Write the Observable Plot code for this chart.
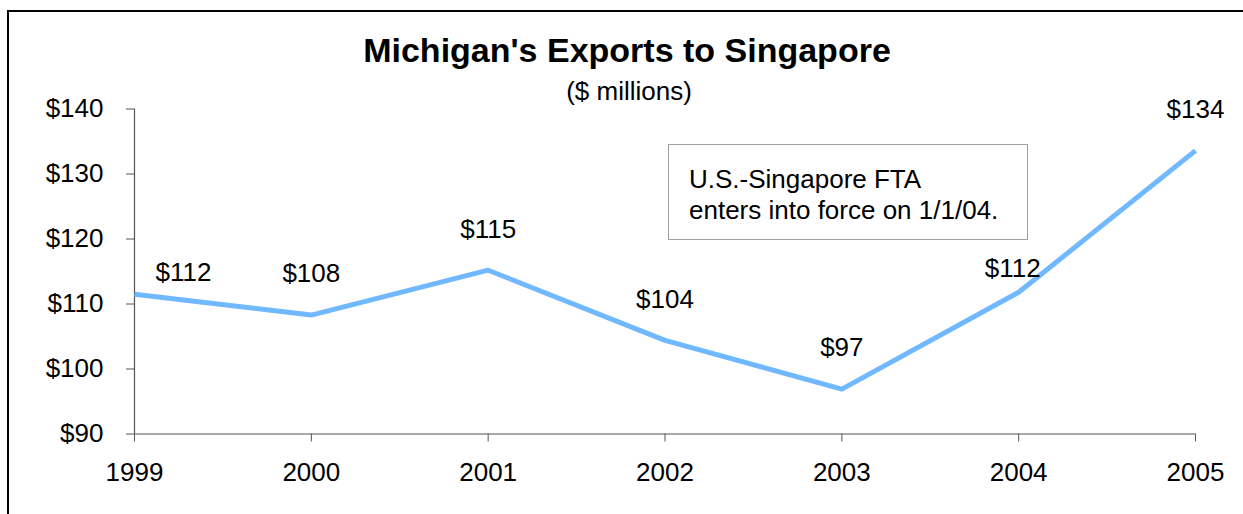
<!DOCTYPE html>
<html>
<head>
<meta charset="utf-8">
<script src="https://cdn.jsdelivr.net/npm/d3@7"></script>
<script src="https://cdn.jsdelivr.net/npm/@observablehq/plot@0.6"></script>
<style>
  html, body { margin: 0; padding: 0; background: #fff; }
  body { font-family: "Liberation Sans", Arial, sans-serif; color: #000; }
  #wrap { position: relative; width: 1243px; height: 514px; overflow: hidden; background: #fff; }
  #wrap svg { position: absolute; left: 0; top: 0; display: block; }
  #frame { position: absolute; left: 7px; top: 10px; width: 1300px; height: 700px;
           border-left: 2px solid #000; border-top: 2px solid #000; pointer-events: none; }
  .title { position: absolute; left: 627px; top: 33px; transform: translateX(-50%);
           white-space: nowrap; font-size: 34px; line-height: 34px; font-weight: bold; }
  .subtitle { position: absolute; left: 629px; top: 78px; transform: translateX(-50%);
              white-space: nowrap; font-size: 26px; line-height: 26px; }
  .note { position: absolute; left: 668px; top: 144px; width: 358px; height: 94px;
          border: 1px solid #a0a0a0; background: #fff; box-sizing: content-box; }
  .note div { position: absolute; left: 20px; top: 19px; font-size: 26px; line-height: 31px; white-space: nowrap; }
</style>
</head>
<body>
<div id="wrap"></div>
<script>
// ---- data ----
const years = [1999, 2000, 2001, 2002, 2003, 2004, 2005];
const exportsMillions = [111.5, 108.3, 115.2, 104.4, 96.9, 111.8, 133.6];
const valueLabels = ["$112", "$108", "$115", "$104", "$97", "$112", "$134"];
const yTicks = [90, 100, 110, 120, 130, 140];
const titleText = "Michigan's Exports to Singapore";
const subtitleText = "($ millions)";
const noteLines = ["U.S.-Singapore FTA", "enters into force on 1/1/04."];

const rows = years.map((year, i) => ({year, value: exportsMillions[i], label: valueLabels[i]}));

const lineColor = "#70b8ff";
const axisColor = "#555";

const chart = Plot.plot({
  width: 1243,
  height: 514,
  marginLeft: 134,
  marginRight: 48,
  marginTop: 108.5,
  marginBottom: 80.5,
  style: { fontFamily: "'Liberation Sans', Arial, sans-serif", fontSize: "26px", color: "#000", background: "transparent", overflow: "visible" },
  x: { type: "linear", domain: [1999, 2005] },
  y: { domain: [90, 140] },
  marks: [
    Plot.axisY({ ticks: yTicks, tickFormat: d => "$" + d, tickSize: 8, tickPadding: 23, stroke: axisColor, fill: "#000", label: null, fontSize: 26 }),
    Plot.axisX({ ticks: years, tickFormat: d => String(d), tickSize: 8, tickPadding: 21, stroke: axisColor, fill: "#000", label: null, fontSize: 26 }),
    Plot.ruleX([1999], { stroke: axisColor, strokeWidth: 1.2 }),
    Plot.ruleY([90], { stroke: axisColor, strokeWidth: 1.2 }),
    Plot.line(rows, { x: "year", y: "value", stroke: lineColor, strokeWidth: 5, strokeLinejoin: "round", strokeLinecap: "butt" }),
    Plot.text(rows.filter(d => d.year !== 1999 && d.year !== 2004), { x: "year", y: "value", text: "label", dy: -41, fontSize: 26, fill: "#000" }),
    Plot.text(rows.filter(d => d.year === 1999), { x: "year", y: "value", text: "label", dx: 49, dy: -22, fontSize: 26, fill: "#000" }),
    Plot.text(rows.filter(d => d.year === 2004), { x: "year", y: "value", text: "label", dx: -6, dy: -24, fontSize: 26, fill: "#000" })
  ]
});

const wrap = document.getElementById("wrap");
wrap.appendChild(chart);

const t = document.createElement("div");
t.className = "title"; t.textContent = titleText; wrap.appendChild(t);
const s = document.createElement("div");
s.className = "subtitle"; s.textContent = subtitleText; wrap.appendChild(s);

const note = document.createElement("div");
note.className = "note";
const noteText = document.createElement("div");
noteLines.forEach((ln, i) => {
  if (i) noteText.appendChild(document.createElement("br"));
  noteText.appendChild(document.createTextNode(ln));
});
note.appendChild(noteText);
wrap.appendChild(note);

const frame = document.createElement("div");
frame.id = "frame"; wrap.appendChild(frame);
</script>
</body>
</html>
